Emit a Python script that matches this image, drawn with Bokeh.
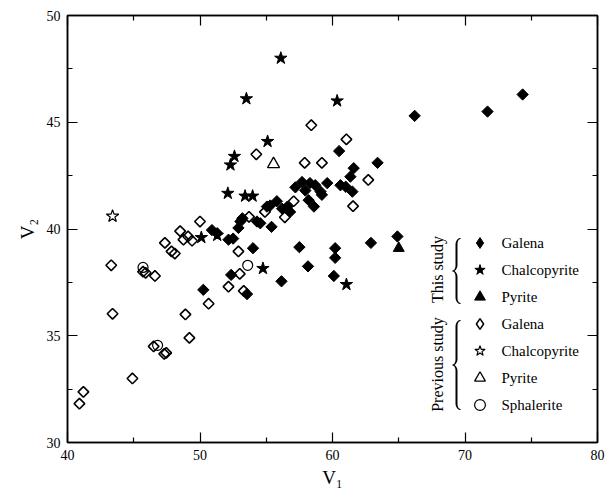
import numpy as np
from bokeh.plotting import figure
from bokeh.models import (LinearAxis, FixedTicker, Legend, LegendItem, Label,
                          PolyAnnotation, Range1d)
from bokeh.embed import file_html
from bokeh.resources import INLINE

# ---------------- data ----------------
galena_this_x = [74.35, 71.7, 66.2, 60.5, 63.4, 61.6, 61.35, 60.6, 61.5, 59.6, 58.3, 57.95, 58.7,
                 57.2, 58.2, 58.6, 59.2, 61.0, 59.1, 55.8, 55.05, 55.3, 56.2, 56.6, 56.8, 54.55,
                 54.3, 55.4, 53.05, 53.2, 52.15, 52.5, 50.9, 51.3, 52.9, 57.5, 60.2, 60.2, 58.15,
                 60.1, 62.9, 56.15, 64.9, 50.25, 54.0, 52.35, 53.55, 57.7]
galena_this_y = [46.3, 45.5, 45.3, 43.65, 43.1, 42.85, 42.45, 42.05, 41.75, 42.15, 42.15, 41.8, 42.05,
                 41.95, 41.35, 41.05, 41.6, 41.98, 41.75, 41.3, 41.05, 41.1, 40.95, 41.05, 40.8, 40.27,
                 40.35, 40.1, 40.35, 40.5, 39.5, 39.55, 39.95, 39.8, 40.05, 39.15, 39.1, 38.65, 38.25,
                 37.8, 39.35, 37.55, 39.65, 37.15, 39.1, 37.85, 36.95, 42.2]
chalco_this_x = [56.1, 53.5, 60.35, 55.1, 52.6, 52.3, 52.1, 53.4, 53.97, 50.1, 51.3, 54.75, 61.05]
chalco_this_y = [48.0, 46.1, 46.0, 44.1, 43.4, 43.0, 41.67, 41.54, 41.54, 39.6, 39.7, 38.15, 37.4]
pyrite_this_x = [65.0]
pyrite_this_y = [39.1]

galena_prev_x = [58.4, 61.05, 54.25, 57.9, 59.2, 62.7, 61.55, 57.07, 56.4, 54.9, 53.7, 50.0, 49.1,
                 49.4, 48.75, 47.35, 47.85, 48.1, 48.5, 43.3, 45.7, 45.9, 46.6, 43.4, 48.9, 49.2,
                 46.5, 47.3, 47.45, 44.9, 41.2, 40.9, 50.65, 52.9, 53.0, 52.15, 53.3]
galena_prev_y = [44.86, 44.2, 43.5, 43.1, 43.1, 42.3, 41.07, 41.3, 40.55, 40.8, 40.57, 40.35, 39.65,
                 39.45, 39.5, 39.35, 38.95, 38.85, 39.9, 38.3, 38.0, 37.95, 37.8, 36.03, 36.0, 34.9,
                 34.5, 34.15, 34.2, 33.0, 32.37, 31.82, 36.5, 38.95, 37.9, 37.3, 37.1]
chalco_prev_x = [43.4]
chalco_prev_y = [40.6]
pyrite_prev_x = [55.55]
pyrite_prev_y = [43.04]
sphal_prev_x = [45.7, 46.8, 53.6]
sphal_prev_y = [38.2, 34.55, 38.3]

legend_labels = ["Galena", "Chalcopyrite", "Pyrite", "Galena", "Chalcopyrite", "Pyrite", "Sphalerite"]
group_labels = ["This study", "Previous study"]
x_ticks = [40, 50, 60, 70, 80]
x_minor = [45, 55, 65, 75]
y_ticks = [30, 35, 40, 45, 50]
y_minor = [32.5, 37.5, 42.5, 47.5]

FONT = "Liberation Serif"

p = figure(width=606, height=490, output_backend="svg", toolbar_location=None,
           x_range=Range1d(40, 80), y_range=Range1d(30, 50),
           min_border_left=67, min_border_right=9, min_border_top=15, min_border_bottom=47,
           x_axis_label="V\u2081", y_axis_label="V\u2082")
p.grid.visible = False
p.outline_line_color = "black"
p.outline_line_width = 1.5
p.background_fill_color = "white"

def style_axis(ax, ticks, minor, show_labels):
    ax.ticker = FixedTicker(ticks=ticks, minor_ticks=minor)
    ax.axis_line_color = "black"
    ax.axis_line_width = 1.5
    ax.major_tick_in = 10
    ax.major_tick_out = 0
    ax.minor_tick_in = 5
    ax.minor_tick_out = 0
    ax.major_tick_line_color = "black"
    ax.minor_tick_line_color = "black"
    ax.major_tick_line_width = 1.2
    ax.minor_tick_line_width = 1.2
    ax.major_label_text_font = FONT
    ax.major_label_text_font_size = "14px"
    if show_labels:
        ax.major_label_text_color = "black"
        ax.major_label_standoff = 7
    else:
        ax.major_label_text_color = None
        ax.major_label_standoff = 0
    ax.axis_label_text_font = FONT
    ax.axis_label_text_font_style = "normal"
    ax.axis_label_text_font_size = "19px"
    ax.axis_label_text_color = "black"
    ax.axis_label_standoff = 4

style_axis(p.xaxis[0], x_ticks, x_minor, True)
style_axis(p.yaxis[0], y_ticks, y_minor, True)
p.yaxis[0].axis_label_standoff = 6
top = LinearAxis()
right = LinearAxis()
style_axis(top, x_ticks, x_minor, False)
style_axis(right, y_ticks, y_minor, False)
p.add_layout(top, "above")
p.add_layout(right, "right")

r1 = p.scatter(galena_this_x, galena_this_y, marker="square", angle=np.pi / 4, size=8,
               fill_color="black", line_color="black", line_width=1)
r2 = p.scatter(chalco_this_x, chalco_this_y, marker="star", size=13,
               fill_color="black", line_color="black", line_width=1)
r3 = p.scatter(pyrite_this_x, pyrite_this_y, marker="triangle", size=11,
               fill_color="black", line_color="black", line_width=1)
r4 = p.scatter(galena_prev_x, galena_prev_y, marker="square", angle=np.pi / 4, size=7.5,
               fill_color=None, line_color="black", line_width=1.6)
r5 = p.scatter(chalco_prev_x, chalco_prev_y, marker="star", size=13,
               fill_color=None, line_color="black", line_width=1.2)
r6 = p.scatter(pyrite_prev_x, pyrite_prev_y, marker="triangle", size=12,
               fill_color=None, line_color="black", line_width=1.3)
r7 = p.scatter(sphal_prev_x, sphal_prev_y, marker="circle", size=10,
               fill_color=None, line_color="black", line_width=1.2)

# legend-only diamond glyphs (legend does not rotate markers); NaN keeps them off the plot
d1 = p.scatter([float("nan")], [float("nan")], marker="diamond",
               fill_color="black", line_color="black", line_width=1)
d4 = p.scatter([float("nan")], [float("nan")], marker="diamond",
               fill_color=None, line_color="black", line_width=1.5)

LEG_X, LEG_Y, ROW_H, STANDOFF = 399, 24, 27, 8
renderers = [d1, r2, r3, d4, r5, r6, r7]
items = [LegendItem(label=lab, renderers=[r]) for lab, r in zip(legend_labels, renderers)]
legend = Legend(items=items, location=(LEG_X, LEG_Y), glyph_width=ROW_H, glyph_height=ROW_H,
                label_height=ROW_H, spacing=0, padding=0, margin=0, label_standoff=STANDOFF,
                border_line_color=None, background_fill_alpha=0,
                label_text_font=FONT, label_text_font_size="15px",
                label_text_color=None)
p.add_layout(legend, "center")

# legend label texts drawn in the serif face, aligned to the legend rows
n_rows = len(legend_labels)
for i, lab in enumerate(legend_labels):
    p.add_layout(Label(x=LEG_X + ROW_H + STANDOFF, y=LEG_Y + ROW_H * (n_rows - i) - ROW_H / 2,
                       x_units="screen", y_units="screen", text=lab,
                       text_align="left", text_baseline="middle",
                       text_font=FONT, text_font_size="15px", text_color="black"))

# group labels (screen units, frame relative)
for txt, cy in zip(group_labels, [173, 78]):
    p.add_layout(Label(x=370, y=cy, x_units="screen", y_units="screen", text=txt,
                       angle=np.pi / 2, text_align="center", text_baseline="middle",
                       text_font=FONT, text_font_size="16px", text_color="black"))

def brace(xl, ytop, ybot, d=4.0, c=6.0):
    ymid = (ytop + ybot) / 2.0
    xm = xl + d
    th = np.linspace(0, np.pi / 2, 12)
    ax_ = xm + d * (1 - np.sin(th))
    ay_ = ytop - c * (1 - np.cos(th))
    cx_ = xl + d * np.cos(th)
    cy_ = ymid + c * (1 - np.sin(th))
    ux = np.concatenate([ax_, cx_])
    uy = np.concatenate([ay_, cy_])
    lx = ux[::-1][1:]
    ly = (2 * ymid - uy)[::-1][1:]
    X = np.concatenate([ux, lx])
    Y = np.concatenate([uy, ly])
    dx = np.gradient(X)
    dy = np.gradient(Y)
    n = np.hypot(dx, dy) + 1e-9
    nx, ny = -dy / n, dx / n
    t = np.linspace(0, 1, len(X))
    w = np.maximum(0.45 + 0.5 * np.sin(np.pi * t * 2) ** 2, 0.5)
    xs = np.concatenate([X + nx * w, (X - nx * w)[::-1]])
    ys = np.concatenate([Y + ny * w, (Y - ny * w)[::-1]])
    return list(xs), list(ys)

for (yt, yb) in [(204, 139), (122, 33)]:
    bx, by = brace(385, yt, yb)
    p.add_layout(PolyAnnotation(xs=bx, ys=by, xs_units="screen", ys_units="screen",
                                fill_color="black", fill_alpha=1, line_color="black",
                                line_width=0.3))

open("out.html", "w").write(file_html(p, INLINE))
